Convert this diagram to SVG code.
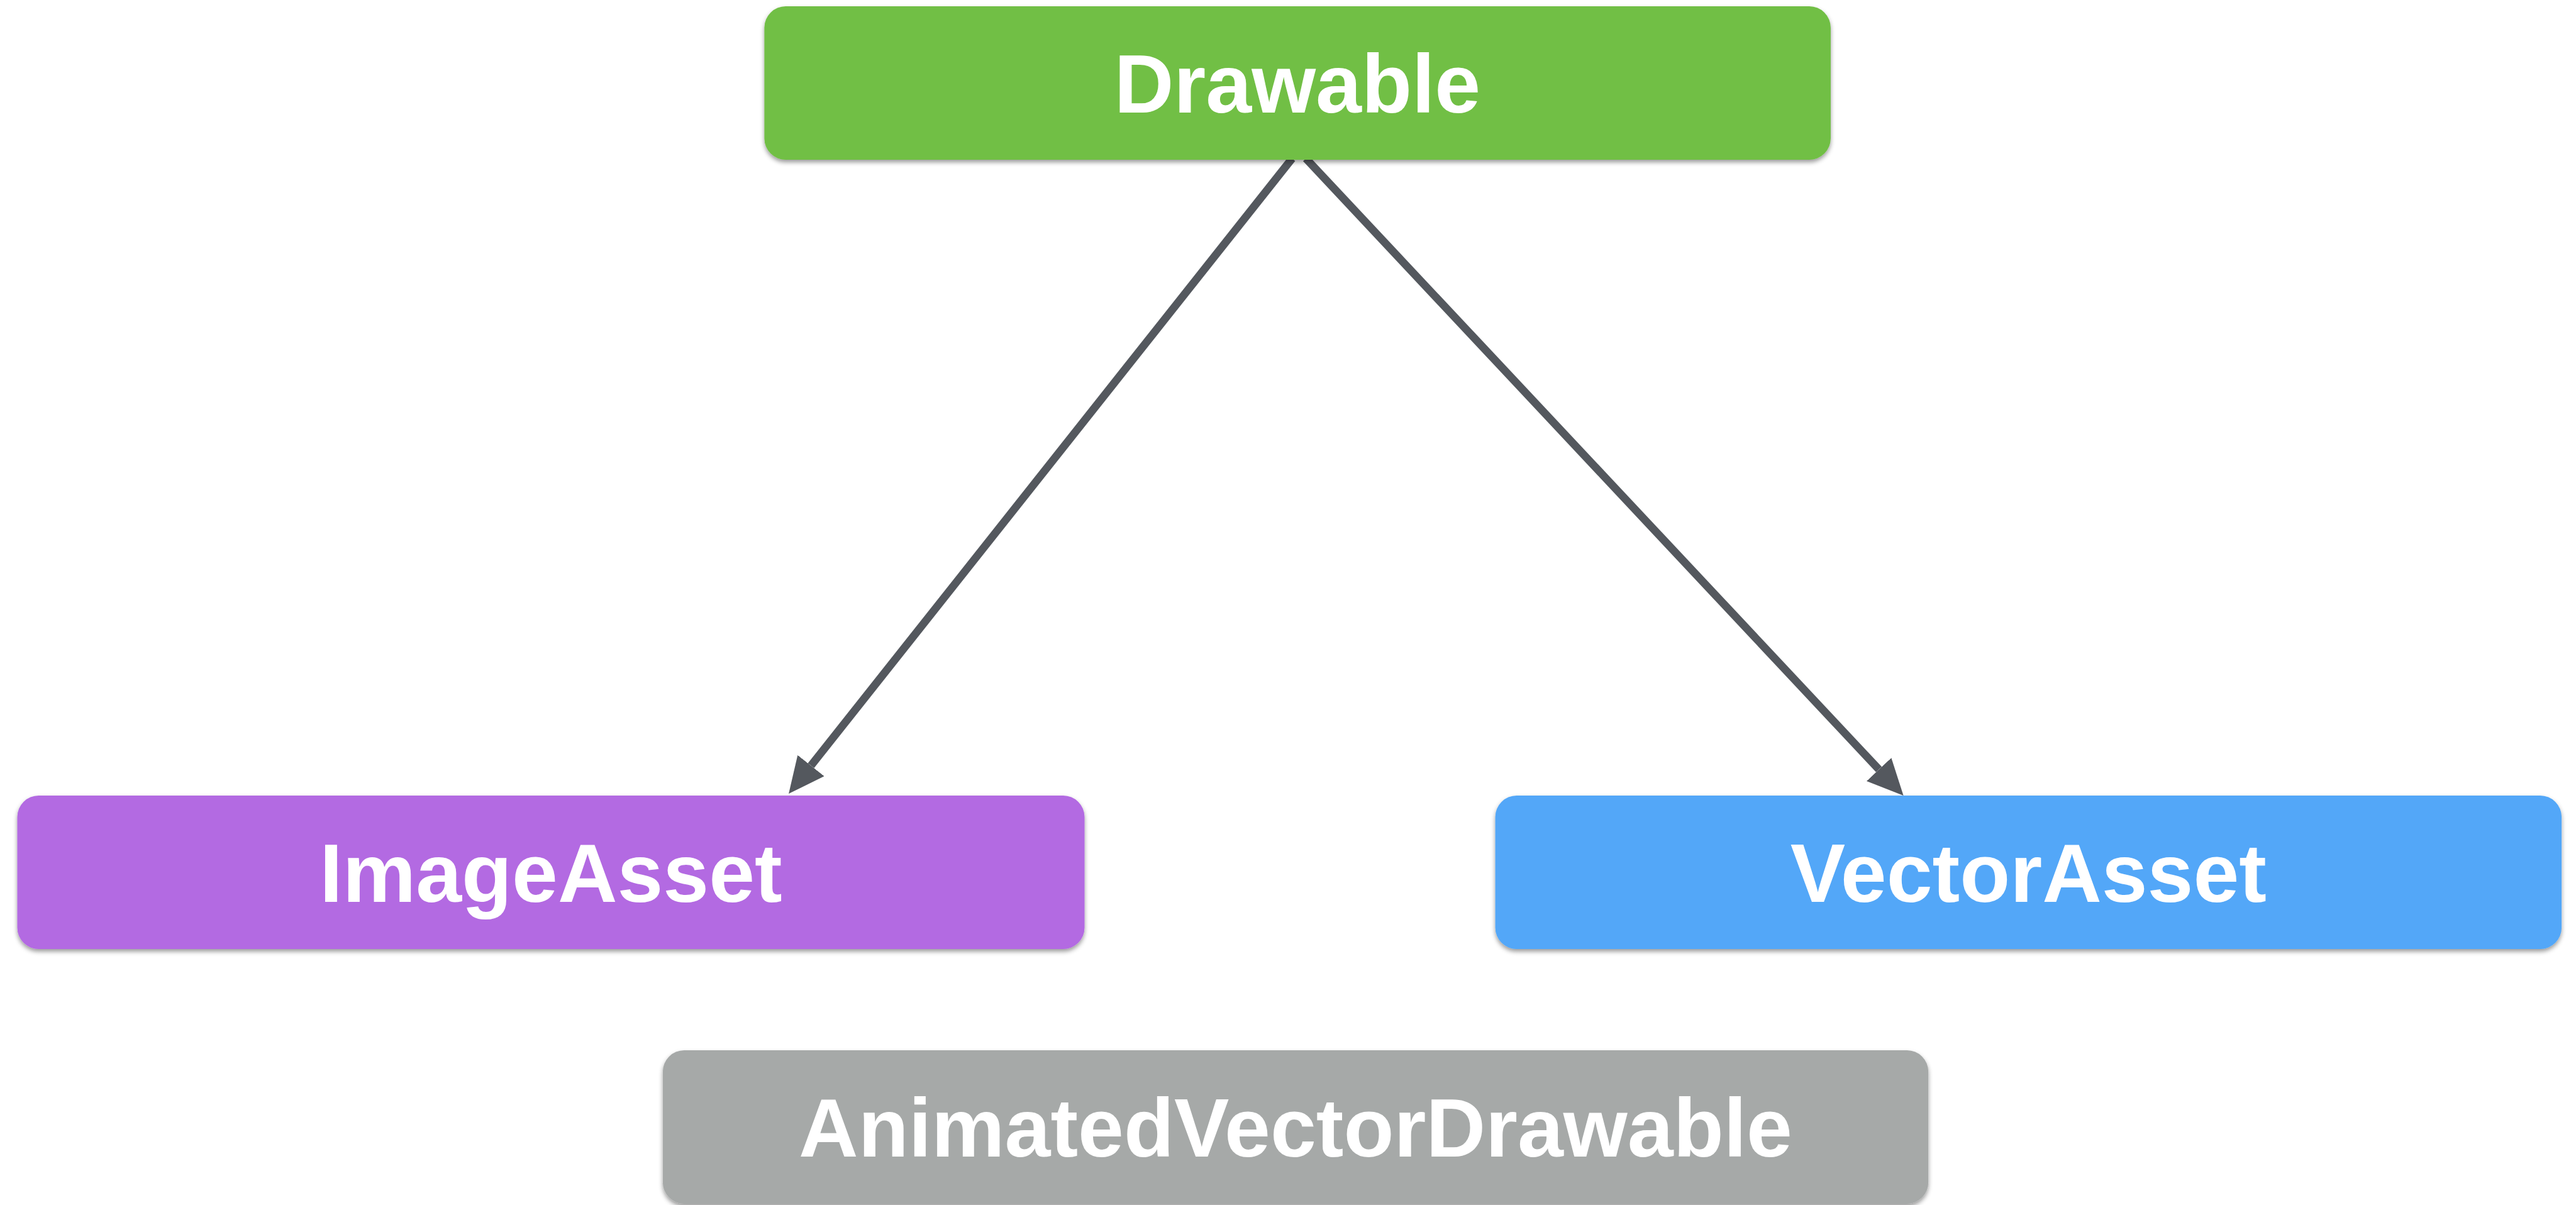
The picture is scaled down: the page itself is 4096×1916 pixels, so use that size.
<svg xmlns="http://www.w3.org/2000/svg" width="4096" height="1916" viewBox="0 0 4096 1916">
  <defs>
    <filter id="shadow" x="-5%" y="-20%" width="110%" height="140%">
      <feDropShadow dx="0" dy="4" stdDeviation="3.5" flood-color="#000" flood-opacity="0.4"/>
    </filter>
    <marker id="arrow" markerUnits="userSpaceOnUse" viewBox="0 0 57 54" markerWidth="57" markerHeight="54" refX="0" refY="27" orient="auto">
      <path d="M0,0 L57,27 L0,54 Z" fill="#54585e"/>
    </marker>
  </defs>
  <style>
    .box { filter: url(#shadow); }
    .label { font-family: "Liberation Sans", Arial, Helvetica, sans-serif; font-weight: bold; font-size: 131px; fill: #ffffff; text-anchor: middle; }
    .edge { stroke: #54585e; stroke-width: 12.5; fill: none; marker-end: url(#arrow); }
  </style>
  <rect width="4096" height="1916" fill="#ffffff"/>

  <!-- inheritance arrows -->
  <g id="connectors">
    <line class="edge" x1="2054.5" y1="252" x2="1289.5" y2="1217.4"/>
    <line class="edge" x1="2076.5" y1="252" x2="2987.6" y2="1223.5"/>
  </g>

  <g id="node-drawable">
    <rect class="box" x="1215.4" y="10" width="1695.5" height="244" rx="34" fill="#71bf44"/>
    <text class="label" x="2063" y="179">Drawable</text>
  </g>

  <g id="node-imageasset">
    <rect class="box" x="27.5" y="1265" width="1697" height="244" rx="34" fill="#b36be2"/>
    <text class="label" x="876" y="1434">ImageAsset</text>
  </g>

  <g id="node-vectorasset">
    <rect class="box" x="2377.6" y="1265" width="1695.5" height="244" rx="34" fill="#52a7f8"/>
    <text class="label" x="3225.3" y="1434">VectorAsset</text>
  </g>

  <g id="node-animatedvectordrawable">
    <rect class="box" x="1053.9" y="1670" width="2012.3" height="244" rx="34" fill="#a6a9a8"/>
    <text class="label" x="2060" y="1839">AnimatedVectorDrawable</text>
  </g>
</svg>
